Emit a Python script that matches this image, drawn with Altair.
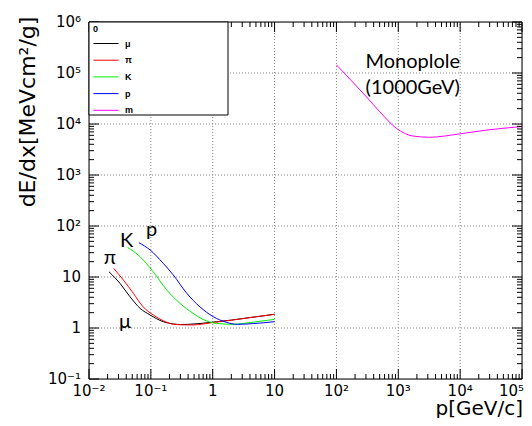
import altair as alt
import pandas as pd

W, H = 433, 357

# ---- data ----
names = ["μ", "π", "K", "p", "m"]
colors = ["#000000", "#ff0000", "#00ee00", "#0000ff", "#ff00ff"]

mu_p = [0.021, 0.0317, 0.046, 0.067, 0.097, 0.158, 0.23, 0.3, 0.4, 0.6, 1.0, 2.0, 4.0, 10.0]
mu_dedx = [12.7, 7.5, 4.1, 2.43, 1.8, 1.33, 1.2, 1.17, 1.18, 1.22, 1.3, 1.43, 1.6, 1.86]

pi_p = [0.025, 0.036, 0.052, 0.075, 0.109, 0.158, 0.23, 0.35, 0.5, 0.7, 1.0, 2.0, 4.0, 10.0]
pi_dedx = [14.8, 8.7, 4.8, 2.6, 1.8, 1.39, 1.19, 1.15, 1.15, 1.2, 1.28, 1.42, 1.6, 1.85]

k_p = [0.042, 0.067, 0.109, 0.18, 0.295, 0.48, 0.7, 1.16, 2.14, 3.0, 4.5, 10.0]
k_dedx = [38, 25, 12.7, 5.6, 3.05, 1.94, 1.47, 1.23, 1.18, 1.22, 1.3, 1.48]

pr_p = [0.064, 0.097, 0.158, 0.23, 0.38, 0.62, 1.02, 1.67, 2.5, 4.5, 10.0]
pr_dedx = [47, 34, 18.6, 11, 4.8, 2.6, 1.67, 1.29, 1.18, 1.22, 1.33]

mono_p = [100, 306, 502, 935, 1730, 3230, 9860, 26600, 100000]
mono_dedx = [1.44e5, 3.4e4, 1.74e4, 8.2e3, 5.8e3, 5.5e3, 6.4e3, 7.6e3, 8.9e3]

ann_labels = ["π", "K", "p", "μ"]
ann_x = [0.0218, 0.0406, 0.103, 0.038]
ann_y = [23.6, 51.5, 83.5, 1.33]

mono_label = "Monoplole\n(1000GeV)"
mono_lx = [1714]
mono_ly = [1.64e5]

x_decades = [-2, -1, 0, 1, 2, 3, 4, 5]
x_labels = ["10⁻²", "10⁻¹", "1", "10", "10²", "10³", "10⁴", "10⁵"]
y_decades = [-1, 0, 1, 2, 3, 4, 5, 6]
y_labels = ["10⁻¹", "1", "10", "10²", "10³", "10⁴", "10⁵", "10⁶"]

x_title = "p[GeV/c]"
y_title = "dE/dx[MeVcm²/g]"
y_title_at = [1.72e4]

# ---- tables ----
series = [(names[0], mu_p, mu_dedx), (names[1], pi_p, pi_dedx), (names[2], k_p, k_dedx),
          (names[3], pr_p, pr_dedx), (names[4], mono_p, mono_dedx)]
rows = []
for name, xs_, ys_ in series:
    for a, b in zip(xs_, ys_):
        rows.append({"p": a, "dedx": b, "particle": name})
df = pd.DataFrame(rows)

x_major = [10.0 ** d for d in x_decades]
y_major = [10.0 ** d for d in y_decades]
x_minor = [m * 10.0 ** d for d in x_decades[:-1] for m in range(2, 10)]
y_minor = [m * 10.0 ** d for d in y_decades[:-1] for m in range(2, 10)]

ann = pd.DataFrame({"x": ann_x, "y": ann_y, "t": ann_labels})
mono_df = pd.DataFrame({"x": mono_lx, "y": mono_ly, "t": [mono_label]})

xmin, xmax = x_major[0], x_major[-1]
ymin, ymax = y_major[0], y_major[-1]
xs = alt.Scale(type="log", domain=[xmin, xmax], nice=False)
ys = alt.Scale(type="log", domain=[ymin, ymax], nice=False)


def X(f):
    return alt.X(f, scale=xs, axis=None)


def Y(f):
    return alt.Y(f, scale=ys, axis=None)


legend = alt.Legend(orient="none", legendX=4, legendY=3, title="0", titleFont="Liberation Sans",
                    titleFontSize=9, titleFontWeight="bold", titleColor="black", titlePadding=4,
                    symbolType="M-1,0H4", symbolSize=100, symbolStrokeWidth=1,
                    labelFont="Liberation Sans", labelFontSize=9, labelFontWeight="bold",
                    labelColor="black", labelOffset=21, rowPadding=5.7, padding=0)

# grid (dotted, interior decades)
xg = pd.DataFrame({"v": x_major[1:-1], "a": ymin, "b": ymax})
yg = pd.DataFrame({"v": y_major[1:-1], "a": xmin, "b": xmax})
xgrid = alt.Chart(xg).mark_rule(color="#888888", strokeWidth=1, strokeDash=[1, 2]).encode(
    x=X("v:Q"), y=Y("a:Q"), y2="b:Q")
ygrid = alt.Chart(yg).mark_rule(color="#888888", strokeWidth=1, strokeDash=[1, 2]).encode(
    y=Y("v:Q"), x=X("a:Q"), x2="b:Q")

curves = alt.Chart(df).mark_line(strokeWidth=1, interpolate="monotone", clip=True).encode(
    x=X("p:Q"), y=Y("dedx:Q"),
    color=alt.Color("particle:N", scale=alt.Scale(domain=names, range=colors), legend=legend),
    detail="particle:N",
)

# inward ticks on all four sides (major 10px, minor 5px)
layers = []
for vals, ln in [(x_major, 10), (x_minor, 5)]:
    d = pd.DataFrame({"v": vals})
    for y0, y1 in [(H, H - ln), (0, ln)]:
        layers.append(alt.Chart(d).mark_rule(color="black", strokeWidth=1).encode(
            x=X("v:Q"), y=alt.value(y0), y2=alt.value(y1)))
for vals, ln in [(y_major, 10), (y_minor, 5)]:
    d = pd.DataFrame({"v": vals})
    for x0, x1 in [(0, ln), (W, W - ln)]:
        layers.append(alt.Chart(d).mark_rule(color="black", strokeWidth=1).encode(
            y=Y("v:Q"), x=alt.value(x0), x2=alt.value(x1)))

one = alt.Data(values=[{"a": 1}])
frame = alt.Chart(one).mark_rect(fillOpacity=0, stroke="black", strokeWidth=1).encode(
    x=alt.value(0), x2=alt.value(W), y=alt.value(0), y2=alt.value(H))
box = alt.Chart(one).mark_rect(fill="white", stroke="black", strokeWidth=1).encode(
    x=alt.value(0), x2=alt.value(139), y=alt.value(0), y2=alt.value(93))

# tick labels and titles
xl = pd.DataFrame({"v": x_major[:-1], "a": ymin, "t": x_labels[:-1]})
xl_last = pd.DataFrame({"v": x_major[-1:], "a": ymin, "t": x_labels[-1:]})
yl = pd.DataFrame({"v": y_major, "a": xmin, "t": y_labels})
xlab = alt.Chart(xl).mark_text(font="DejaVu Sans", fontSize=15, color="black", align="center",
                               baseline="top", dy=5).encode(x=X("v:Q"), y=Y("a:Q"), text="t:N")
xlab_last = alt.Chart(xl_last).mark_text(font="DejaVu Sans", fontSize=15, color="black", align="right",
                                         baseline="top", dy=5, dx=2).encode(x=X("v:Q"), y=Y("a:Q"), text="t:N")
ylab = alt.Chart(yl).mark_text(font="DejaVu Sans", fontSize=15, color="black", align="right",
                               baseline="middle", dx=-8).encode(y=Y("v:Q"), x=X("a:Q"), text="t:N")

xt_df = pd.DataFrame({"v": [xmax], "a": [ymin], "t": [x_title]})
yt_df = pd.DataFrame({"v": y_title_at, "a": [xmin], "t": [y_title]})
xtitle = alt.Chart(xt_df).mark_text(font="DejaVu Sans", fontSize=20, color="black", align="right",
                                    baseline="alphabetic", dx=1, dy=36).encode(
    x=X("v:Q"), y=Y("a:Q"), text="t:N")
ytitle = alt.Chart(yt_df).mark_text(font="DejaVu Sans", fontSize=22, color="black", align="center",
                                    baseline="middle", angle=270, dy=-61).encode(
    y=Y("v:Q"), x=X("a:Q"), text="t:N")

ann_text = alt.Chart(ann).mark_text(font="Lato", fontSize=20, color="black", align="center",
                                    baseline="middle").encode(x=X("x:Q"), y=Y("y:Q"), text="t:N")

mono_text = alt.Chart(mono_df).mark_text(font="Lato", fontSize=20, color="black", align="center",
                                         baseline="middle", lineBreak="\n", lineHeight=26).encode(
    x=X("x:Q"), y=Y("y:Q"), text="t:N")

chart = alt.layer(xgrid, ygrid, curves, *layers, frame, box,
                  xlab, xlab_last, ylab, xtitle, ytitle, ann_text, mono_text).properties(
    width=W, height=H,
    padding={"left": 81, "top": 14, "right": 2, "bottom": 39},
    autosize=alt.AutoSizeParams(type="none"),
).configure_view(stroke=None).configure(background="white")

chart.save("out.html", embed_options={"renderer": "svg", "actions": False})
